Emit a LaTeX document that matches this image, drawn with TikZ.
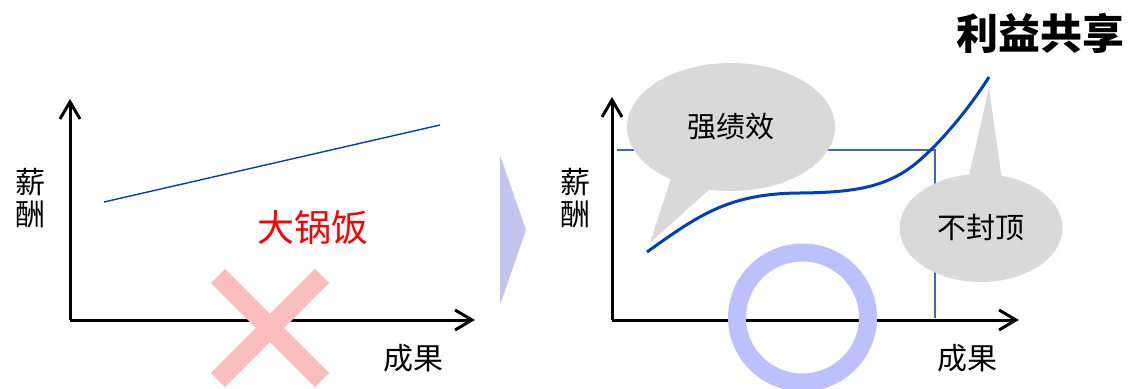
\documentclass[tikz,border=0pt]{standalone}
\usepackage{fontspec}
\setmainfont{Noto Sans CJK SC}
\usetikzlibrary{arrows.meta,shapes.geometric}
\definecolor{lineblue}{RGB}{0,64,192}
\definecolor{guideblue}{RGB}{60,100,215}
\definecolor{bubblegray}{RGB}{217,217,217}
\definecolor{pinkx}{RGB}{250,188,188}
\definecolor{ringblue}{RGB}{188,192,253}
\definecolor{chevcol}{RGB}{196,196,240}
\tikzset{
  axisline/.style={line width=3pt,-{Straight Barb[length=17pt,width=20pt,line width=3pt]}},
  thinblue/.style={draw=lineblue,line width=1.4pt},
  curveline/.style={draw=lineblue,line width=3pt},
  guideline/.style={draw=guideblue,line width=1.4pt},
  lab/.style={font=\fontsize{30}{32}\selectfont,inner sep=0pt,align=center},
  xbar/.style={draw=pinkx,line width=20pt},
  bubblenode/.style={ellipse,fill=bubblegray,inner sep=0pt,font=\fontsize{29}{32}\selectfont},
  tailfill/.style={fill=bubblegray},
}
\begin{document}
\begin{tikzpicture}[x=1pt,y=-1pt]
\useasboundingbox (0,0) rectangle (1129,388);
% ---------- left chart ----------
\coordinate (lo) at (70,320);
\coordinate (ly) at (70,99);
\coordinate (lx) at (475,320);
\draw[axisline] (lo) -- (ly);
\draw[axisline] (lo) -- (lx);
\coordinate (la) at (104,202);
\coordinate (lb) at (440,125);
\draw[thinblue] (la) -- (lb);
\node[lab] (lylab) at (31,198) {薪\\酬};
\node[lab] (lxlab) at (413,358) {成果};
\node[inner sep=0pt,font=\fontsize{37}{40}\selectfont,text=red] (dgf) at (313,228) {大锅饭};
\coordinate (x1) at (218,276);
\coordinate (x2) at (322,380);
\coordinate (x3) at (322,276);
\coordinate (x4) at (218,380);
\draw[xbar] (x1) -- (x2);
\draw[xbar] (x3) -- (x4);
% ---------- chevron ----------
\coordinate (c1) at (500,155);
\coordinate (c2) at (526,230);
\coordinate (c3) at (500,305);
\fill[chevcol] (c1) -- (c2) -- (c3) -- cycle;
% ---------- right chart ----------
\coordinate (g0) at (617,150);
\coordinate (g1) at (935,150);
\coordinate (g2) at (935,318);
\draw[guideline] (g0) -- (g1) -- (g2);
\coordinate (ro) at (612,320);
\coordinate (ry) at (612,97);
\coordinate (rx) at (1019,320);
\draw[axisline] (ro) -- (ry);
\draw[axisline] (ro) -- (rx);
\node[lab] (rylab) at (575,198) {薪\\酬};
\node[lab] (rxlab) at (967,358) {成果};
% bubble 1
\coordinate (t1a) at (672,175);
\coordinate (t1b) at (650,243);
\coordinate (t1c) at (712,187);
\fill[tailfill] (t1a) -- (t1b) -- (t1c) -- cycle;
\node[bubblenode,minimum width=208pt,minimum height=128pt] (b1) at (731,127) {强绩效};
% curve
\coordinate (k0) at (647,252);
\coordinate (k1) at (800,193);
\coordinate (k2) at (907,170);
\coordinate (k3) at (989,77);
\draw[curveline] (k0) .. controls (700,214) and (730,193.5) .. (k1)
  .. controls (850,192.5) and (880,188) .. (k2)
  .. controls (930,154.7) and (965,115) .. (k3);
% bubble 2
\coordinate (t2a) at (968,180);
\coordinate (t2b) at (989,88);
\coordinate (t2c) at (1002,180);
\fill[tailfill] (t2a) -- (t2b) -- (t2c) -- cycle;
\node[bubblenode,minimum width=163pt,minimum height=108pt] (b2) at (981,228) {不封顶};
% ring
\draw[draw=ringblue,line width=18pt] (802.5,317.5) ellipse [x radius=65.5, y radius=65];
% title
\node[inner sep=0pt,font=\fontsize{42}{44}\selectfont\bfseries] (title) at (1040,33) {利益共享};
\end{tikzpicture}
\end{document}
